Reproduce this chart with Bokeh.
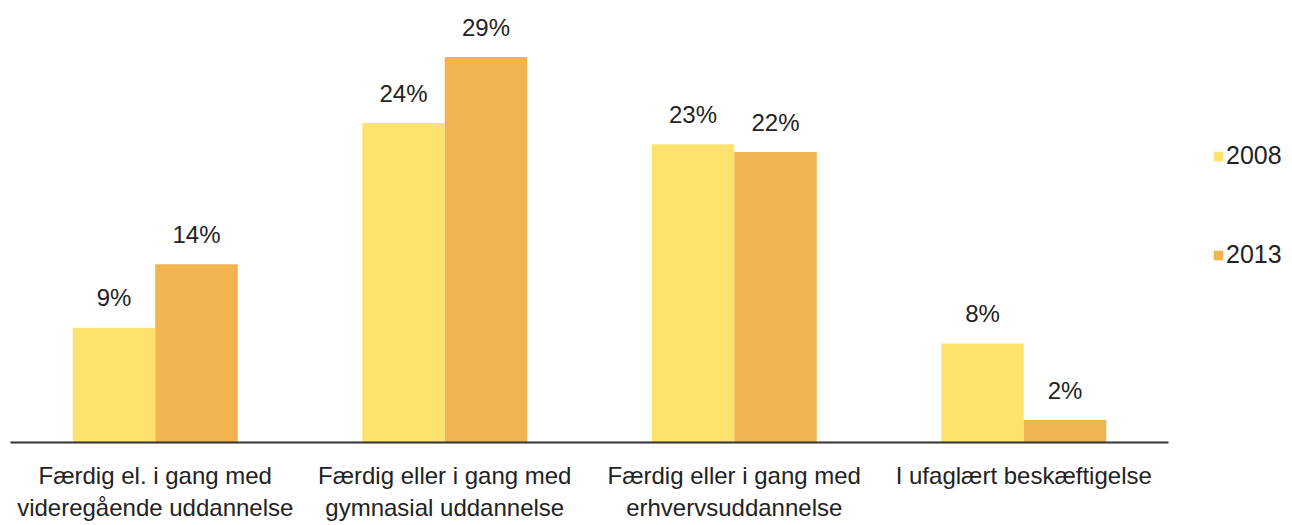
from bokeh.plotting import figure
from bokeh.models import ColumnDataSource, Legend, LegendItem, FactorRange
from bokeh.transform import dodge
from bokeh.core.properties import value
from bokeh.embed import file_html
from bokeh.resources import INLINE

# ---- data ----
categories = [
    "Færdig el. i gang med\nvideregående uddannelse",
    "Færdig eller i gang med\ngymnasial uddannelse",
    "Færdig eller i gang med\nerhvervsuddannelse",
    "I ufaglært beskæftigelse",
]
series_names = ["2008", "2013"]
values_2008 = [8.7, 24.2, 22.6, 7.5]
values_2013 = [13.5, 29.2, 22.0, 1.7]
labels_2008 = ["9%", "24%", "23%", "8%"]
labels_2013 = ["14%", "29%", "22%", "2%"]
colors = ["#FDE36E", "#F2B44F"]

FONT = "Liberation Sans"
TEXT_COLOR = "#222222"

source = ColumnDataSource(dict(
    cat=categories,
    v2008=values_2008,
    v2013=values_2013,
    l2008=labels_2008,
    l2013=labels_2013,
))

p = figure(
    x_range=FactorRange(*categories),
    y_range=(0, 32.88),
    frame_width=1158,
    frame_height=434,
    output_backend="svg",
    toolbar_location=None,
    y_axis_location=None,
    min_border_left=10,
    min_border_right=0,
    min_border_top=8,
    min_border_bottom=0,
)

bw = 0.285
off = bw / 2
r1 = p.vbar(x=dodge("cat", -off, range=p.x_range), top="v2008", width=bw,
            source=source, fill_color=colors[0], line_color=None)
r2 = p.vbar(x=dodge("cat", off, range=p.x_range), top="v2013", width=bw,
            source=source, fill_color=colors[1], line_color=None)

for key, lab, dx in (("v2008", "l2008", -off), ("v2013", "l2013", off)):
    p.text(x=dodge("cat", dx, range=p.x_range), y=key, text=lab, source=source,
           text_align="center", text_baseline="alphabetic", y_offset=-30,
           text_font=value(FONT), text_font_size="24px", text_color=TEXT_COLOR)

p.xgrid.visible = False
p.ygrid.visible = False
p.outline_line_color = None

ax = p.xaxis[0]
ax.axis_line_color = "#333333"
ax.axis_line_width = 2
ax.major_tick_line_color = None
ax.minor_tick_line_color = None
ax.major_label_standoff = 13
ax.major_label_text_font = FONT
ax.major_label_text_font_size = "24px"
ax.major_label_text_color = TEXT_COLOR
ax.major_label_text_line_height = 1.2

legend = Legend(items=[
    LegendItem(label=series_names[0], renderers=[r1]),
    LegendItem(label=series_names[1], renderers=[r2]),
], location=(44, 173))
legend.border_line_color = None
legend.background_fill_alpha = 0
legend.padding = 0
legend.margin = 0
legend.spacing = 70
legend.glyph_width = 12
legend.glyph_height = 12
legend.label_standoff = 2
legend.label_text_font = FONT
legend.label_text_font_size = "25px"
legend.label_text_color = TEXT_COLOR
p.add_layout(legend, "right")

open("out.html", "w").write(file_html(p, INLINE))
